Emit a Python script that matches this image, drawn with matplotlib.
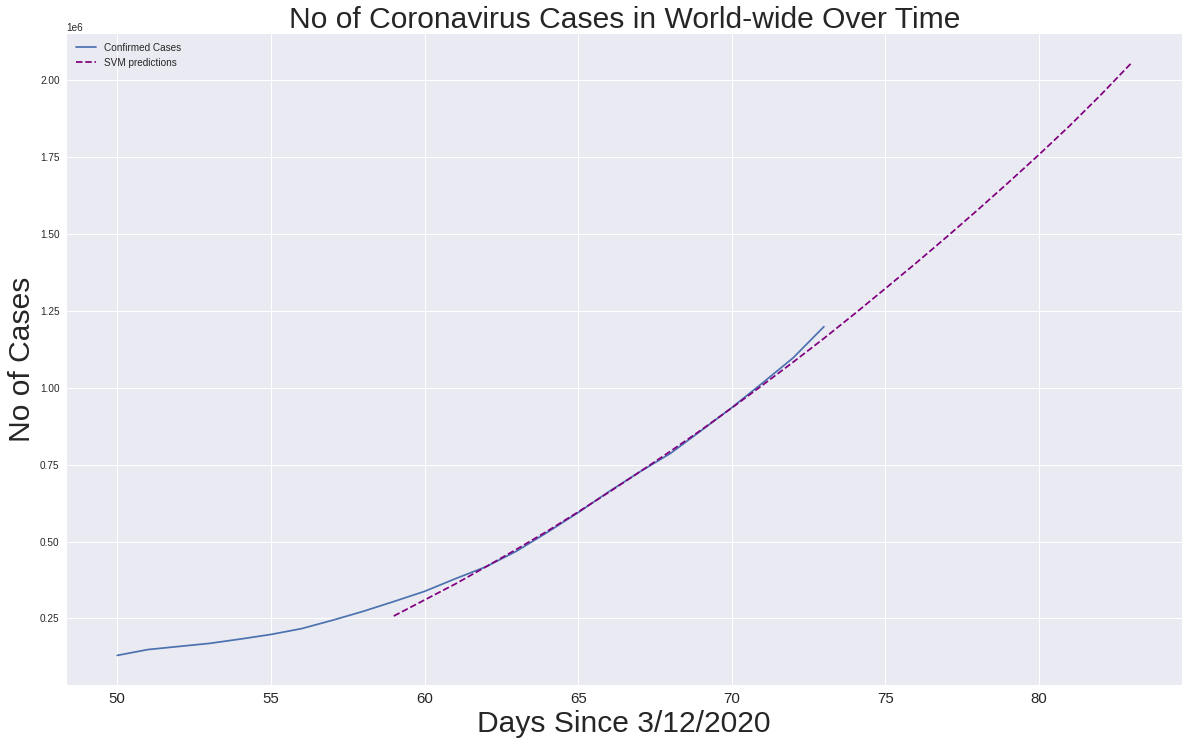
import matplotlib
matplotlib.use("Agg")
import matplotlib.pyplot as plt

plt.style.use("seaborn-v0_8")

days = list(range(50, 74))
confirmed = [0.130, 0.149, 0.159, 0.169, 0.183, 0.198, 0.217, 0.244, 0.273, 0.305,
             0.338, 0.379, 0.418, 0.469, 0.530, 0.594, 0.662, 0.726, 0.786, 0.860,
             0.935, 1.015, 1.097, 1.198]
confirmed = [v * 1e6 for v in confirmed]

pred_days = list(range(59, 84))
svm_pred = [0.258, 0.310, 0.362, 0.418, 0.475, 0.534, 0.596, 0.660, 0.726, 0.793,
            0.862, 0.934, 1.008, 1.083, 1.160, 1.240, 1.322, 1.405, 1.490, 1.577,
            1.666, 1.757, 1.851, 1.950, 2.054]
svm_pred = [v * 1e6 for v in svm_pred]

fig = plt.figure(figsize=(1189 / 72, 747 / 72), dpi=72)
plt.plot(days, confirmed, label="Confirmed Cases")
plt.plot(pred_days, svm_pred, linestyle="dashed", color="purple", label="SVM predictions")
plt.title("No of Coronavirus Cases in World-wide Over Time", size=30)
plt.xlabel("Days Since 3/12/2020", size=30)
plt.ylabel("No of Cases", size=30)
plt.legend(loc="upper left")
plt.xticks(size=15)
plt.subplots_adjust(left=0.056, right=0.994, top=0.955, bottom=0.083)
plt.savefig("out.png", dpi=72)
